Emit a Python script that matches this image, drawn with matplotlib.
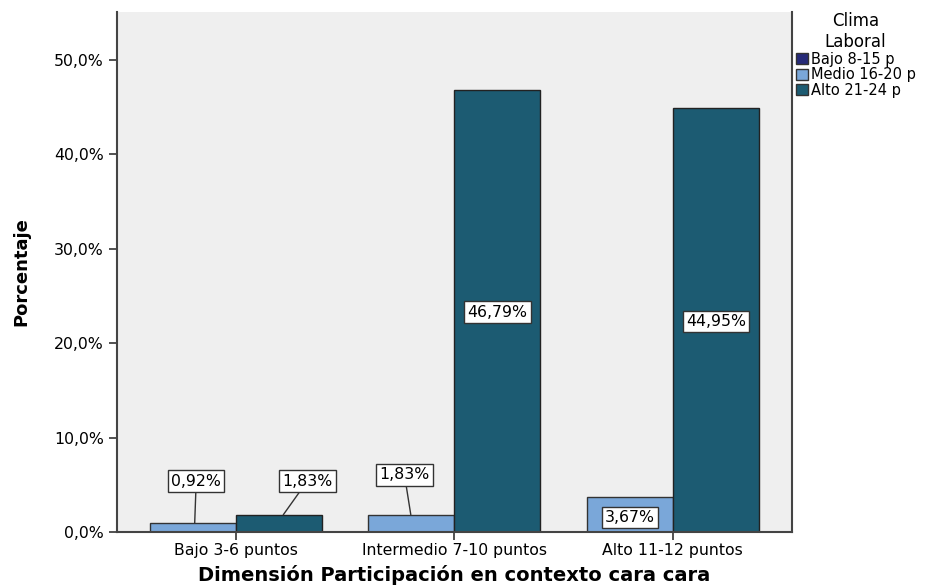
import matplotlib.pyplot as plt
import numpy as np
from matplotlib.patches import Patch

# Grouped bar chart: Clima Laboral by participation level
categories = ['Bajo 3-6 puntos', 'Intermedio 7-10 puntos', 'Alto 11-12 puntos']
series_names = ['Bajo 8-15 p', 'Medio 16-20 p', 'Alto 21-24 p']
bajo_vals = [0.0, 0.0, 0.0]
medio_vals = [0.92, 1.83, 3.67]
alto_vals = [1.83, 46.79, 44.95]
yticks = [0, 10, 20, 30, 40, 50]

colors = ['#262a78', '#7aa7d9', '#1c5b72']

plt.rcParams['font.family'] = ['DejaVu Sans']

fig = plt.figure(figsize=(9.38, 5.85), dpi=100)
ax = fig.add_axes([0.1247, 0.0906, 0.7196, 0.8889])
ax.set_facecolor('#efefef')

x = np.arange(len(categories))
w = 0.394
ax.bar(x - w / 2, medio_vals, w, color=colors[1], edgecolor='#333333', linewidth=1.0)
ax.bar(x + w / 2, alto_vals, w, color=colors[2], edgecolor='#222222', linewidth=1.0)

box = dict(boxstyle='square,pad=0.2', fc='white', ec='#333333', lw=1.0)
fs = 11.3

def label(text, xt, yt, xb=None, yb=None):
    if xb is not None:
        ax.annotate(text, xy=(xb, yb), xytext=(xt, yt), ha='center', va='center',
                    fontsize=fs, bbox=box,
                    arrowprops=dict(arrowstyle='-', color='#333333', lw=1.0,
                                    shrinkA=0, shrinkB=0))
    else:
        ax.text(xt, yt, text, ha='center', va='center', fontsize=fs, bbox=box)

def pct(v):
    return f'{v:.2f}%'.replace('.', ',')

# labels above the short bars, with leader lines
label(pct(medio_vals[0]), -0.183, 5.4, -0.19, medio_vals[0])
label(pct(alto_vals[0]), 0.326, 5.4, 0.216, alto_vals[0])
label(pct(medio_vals[1]), 0.771, 6.05, 0.80, medio_vals[1])
# labels inside the tall bars
label(pct(alto_vals[1]), x[1] + w / 2, 23.3)
label(pct(alto_vals[2]), x[2] + w / 2, 22.3)
label(pct(medio_vals[2]), x[2] - w / 2, 1.55)

ax.set_xlim(-0.546, 2.546)
ax.set_ylim(0, 55.1)
ax.set_yticks(yticks)
ax.set_yticklabels([f'{t:.1f}%'.replace('.', ',') for t in yticks], fontsize=fs)
ax.set_xticks(x)
ax.set_xticklabels(categories, fontsize=fs)
ax.tick_params(axis='both', length=6, width=1.2, color='#333333', direction='out')
ax.tick_params(axis='x', pad=2)

for side in ['left', 'right', 'bottom']:
    ax.spines[side].set_linewidth(1.5)
    ax.spines[side].set_color('#444444')
ax.spines['top'].set_visible(False)

ax.set_ylabel('Porcentaje', fontsize=13, fontweight='bold', labelpad=17)
ax.set_xlabel('Dimensión Participación en contexto cara cara', fontsize=14,
              fontweight='bold', labelpad=5)

handles = [Patch(facecolor=c, edgecolor='#333333') for c in colors]
leg = fig.legend(handles, series_names, title='Clima\nLaboral', loc='upper left',
                 bbox_to_anchor=(0.847, 0.982), frameon=False, fontsize=10.5,
                 title_fontsize=12, handlelength=0.8, handleheight=0.8,
                 handletextpad=0.2, labelspacing=0.05, borderpad=0.1,
                 borderaxespad=0.0)
leg.get_title().set_multialignment('center')

fig.savefig('out.png', dpi=100)
